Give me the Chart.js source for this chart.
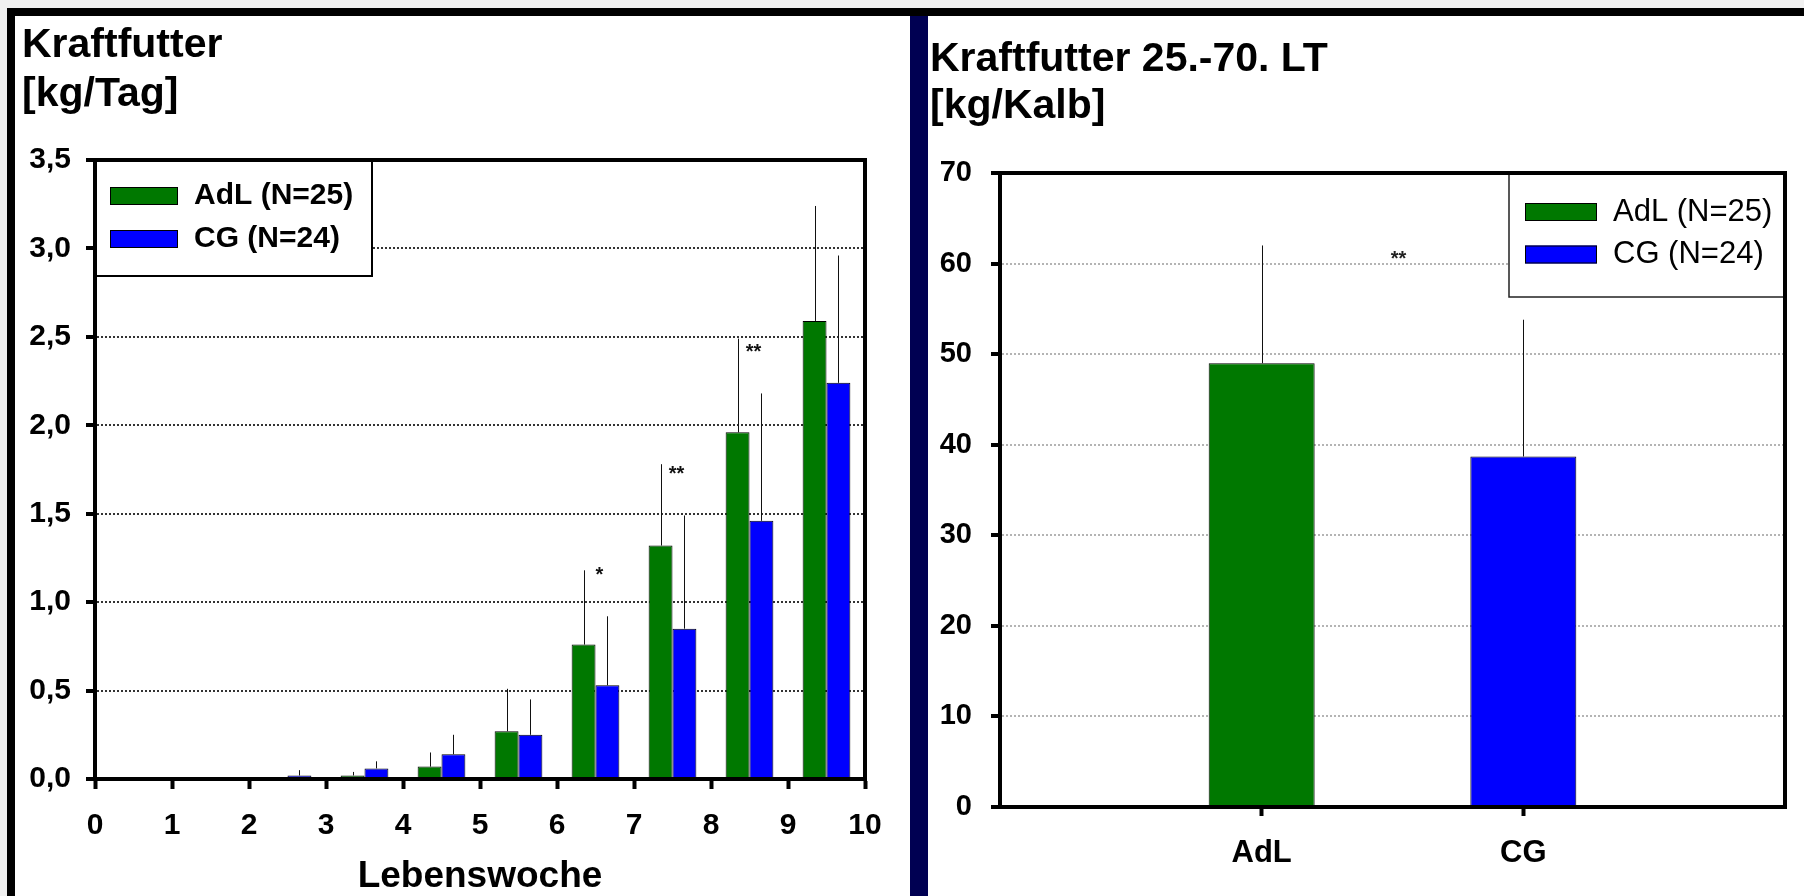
<!DOCTYPE html>
<html>
<head>
<meta charset="utf-8">
<title>Kraftfutter</title>
<script src="https://cdn.jsdelivr.net/npm/chart.js@4.4.1/dist/chart.umd.min.js"></script>
<style>
  html, body { margin: 0; padding: 0; }
  body { width: 1804px; height: 896px; position: relative; overflow: hidden; background: #f0f0f0;
         font-family: 'Liberation Sans', Arial, sans-serif; }
  .rule { position: absolute; background: #000; }
  .panel { position: absolute; top: 16px; height: 880px; background: #fff; }
  .panel canvas { position: absolute; left: 0; top: 0; }
  .title { position: absolute; font-weight: bold; color: #000; white-space: nowrap; }
</style>
</head>
<body>
<div class="rule" style="left:7px; top:8px; width:1797px; height:8px;"></div>
<div class="rule" style="left:7px; top:8px; width:8px; height:888px;"></div>
<div class="rule" style="left:910px; top:16px; width:18px; height:880px; background:#000052;"></div>

<div class="panel" style="left:15px; width:895px;">
  <canvas id="weekly" width="895" height="880" style="width:895px;height:880px;"></canvas>
  <div class="title" style="left:7px; top:3px; font-size:41px; line-height:49px;">Kraftfutter<br>[kg/Tag]</div>
</div>

<div class="panel" style="left:928px; width:876px;">
  <canvas id="total" width="876" height="880" style="width:876px;height:880px;"></canvas>
  <div class="title" style="left:2px; top:18px; font-size:41px; line-height:47px;">Kraftfutter 25.-70. LT<br>[kg/Kalb]</div>
</div>

<script>
// ---- Concentrate intake per week of life (kg/day): mean and SD ----
const weeks      = ['1', '2', '3', '4', '5', '6', '7', '8', '9', '10'];
const weekTicks  = ['0', '1', '2', '3', '4', '5', '6', '7', '8', '9', '10'];
const dailyTicks = ['0,0', '0,5', '1,0', '1,5', '2,0', '2,5', '3,0', '3,5'];
const adlDaily   = [0, 0, 0, 0.02, 0.07, 0.27, 0.76, 1.32, 1.96, 2.59];
const adlDailySd = [0, 0, 0, 0.02, 0.08, 0.24, 0.42, 0.46, 0.53, 0.65];
const cgDaily    = [0, 0, 0.02, 0.06, 0.14, 0.25, 0.53, 0.85, 1.46, 2.24];
const cgDailySd  = [0, 0, 0.03, 0.04, 0.11, 0.20, 0.39, 0.64, 0.72, 0.72];
const weeklySig  = ['', '', '', '', '', '', '*', '**', '**', ''];

// ---- Total concentrate, days 25-70 (kg per calf): mean and SD ----
const groups      = ['AdL', 'CG'];
const groupNames  = ['AdL (N=25)', 'CG (N=24)'];
const groupColors = ['#007800', '#0000ff'];
const totalMean   = [49.0, 38.7];
const totalSd     = [13.0, 15.1];
const totalSig    = '**';
const totalTicks  = ['0', '10', '20', '30', '40', '50', '60', '70'];

Chart.defaults.font.family = "'Liberation Sans', Arial, sans-serif";
Chart.defaults.color = '#000';

const tickVal = c => (c && c.tick) ? c.tick.value : NaN;

// thin SD whiskers from the top of each bar
const errorBars = {
  id: 'errorBars',
  afterDatasetsDraw(chart) {
    const ctx = chart.ctx, y = chart.scales.y;
    ctx.save();
    ctx.strokeStyle = '#111';
    ctx.lineWidth = 1;
    chart.data.datasets.forEach((ds, d) => {
      const meta = chart.getDatasetMeta(d);
      meta.data.forEach((bar, i) => {
        const sd = ds.errors[i];
        if (!sd) return;
        const raw = ds.data[i];
        const v = typeof raw === 'object' ? raw.y : raw;
        const x = Math.round(bar.x) + 0.5;
        ctx.beginPath();
        ctx.moveTo(x, y.getPixelForValue(v));
        ctx.lineTo(x, y.getPixelForValue(v + sd));
        ctx.stroke();
      });
    });
    ctx.restore();
  }
};

// boxed legend sitting in a corner of the plot area
function boxLegend(items, g) {
  return {
    id: 'boxLegend',
    afterDatasetsDraw(chart) {
      const ctx = chart.ctx, a = chart.chartArea;
      const bx = g.right ? a.right - g.w : a.left + g.dx;
      const by = a.top;
      ctx.save();
      ctx.fillStyle = '#fff';
      ctx.fillRect(bx, by, g.w, g.h);
      ctx.strokeStyle = g.stroke;
      ctx.lineWidth = g.lw;
      ctx.strokeRect(bx, by, g.w, g.h);
      items.forEach((it, i) => {
        const cy = by + g.rows[i];
        ctx.fillStyle = it.color;
        ctx.fillRect(bx + g.sx, cy - g.sh / 2, g.sw, g.sh);
        ctx.strokeStyle = '#000';
        ctx.lineWidth = 1;
        ctx.strokeRect(bx + g.sx + 0.5, cy - g.sh / 2 + 0.5, g.sw - 1, g.sh - 1);
        ctx.fillStyle = '#000';
        ctx.font = g.font;
        ctx.textAlign = 'left';
        ctx.textBaseline = 'middle';
        ctx.fillText(it.text, bx + g.tx, cy);
      });
      ctx.restore();
    }
  };
}

// top and right edges of the plot frame
const plotFrame = {
  id: 'plotFrame',
  afterDraw(chart) {
    const ctx = chart.ctx, a = chart.chartArea;
    ctx.save();
    ctx.strokeStyle = '#000';
    ctx.lineWidth = 4;
    ctx.lineCap = 'square';
    ctx.beginPath();
    ctx.moveTo(a.left, a.top);
    ctx.lineTo(a.right, a.top);
    ctx.lineTo(a.right, a.bottom);
    ctx.stroke();
    ctx.restore();
  }
};

// significance stars above the week groups
const weeklyStars = {
  id: 'weeklyStars',
  afterDatasetsDraw(chart) {
    const ctx = chart.ctx, y = chart.scales.y;
    const m0 = chart.getDatasetMeta(0), m1 = chart.getDatasetMeta(1);
    ctx.save();
    ctx.fillStyle = '#111';
    ctx.font = 'bold 20px "Liberation Sans", Arial, sans-serif';
    ctx.textAlign = 'center';
    ctx.textBaseline = 'middle';
    weeklySig.forEach((s, i) => {
      if (!s) return;
      const x = (m0.data[i].x + m1.data[i].x) / 2 + 4;
      const yc = y.getPixelForValue(cgDaily[i] + cgDailySd[i]) - 45;
      ctx.fillText(s, x, yc + 4.5);
    });
    ctx.restore();
  }
};

const totalStars = {
  id: 'totalStars',
  afterDatasetsDraw(chart) {
    const ctx = chart.ctx, y = chart.scales.y;
    const m = chart.getDatasetMeta(0);
    ctx.save();
    ctx.fillStyle = '#222';
    ctx.font = 'bold 20px "Liberation Sans", Arial, sans-serif';
    ctx.textAlign = 'center';
    ctx.textBaseline = 'middle';
    const x = (m.data[0].x + m.data[1].x) / 2 + 6;
    const yc = y.getPixelForValue(totalMean[0] + totalSd[0]) + 10;
    ctx.fillText(totalSig, x, yc + 4.5);
    ctx.restore();
  }
};

// ---------------- weekly chart ----------------
new Chart(document.getElementById('weekly'), {
  type: 'bar',
  data: {
    labels: weeks,
    datasets: [
      { label: groupNames[0], data: adlDaily, errors: adlDailySd,
        backgroundColor: groupColors[0], borderColor: '#000', borderWidth: 1 },
      { label: groupNames[1], data: cgDaily, errors: cgDailySd,
        backgroundColor: groupColors[1], borderColor: '#000', borderWidth: 1 }
    ]
  },
  options: {
    responsive: false,
    animation: false,
    devicePixelRatio: 1,
    layout: { padding: { top: 144, right: 45, left: 0, bottom: 0 } },
    datasets: { bar: { categoryPercentage: 0.62, barPercentage: 1.0 } },
    plugins: { legend: { display: false }, tooltip: { enabled: false } },
    scales: {
      x: { type: 'category', display: false },
      xw: {
        type: 'linear', position: 'bottom', min: 0, max: 10, offset: false,
        afterFit: s => { s.height = 117; },
        grid: { offset: false, drawOnChartArea: false, drawTicks: true, tickLength: 10, tickWidth: 4, tickColor: '#000' },
        border: { display: true, color: '#000', width: 4, z: 1 },
        ticks: { stepSize: 1, autoSkip: false, maxRotation: 0, padding: 19,
                 font: { size: 30, weight: 'bold' }, color: '#000',
                 callback: (v, i) => weekTicks[i] },
        title: { display: true, text: 'Lebenswoche', color: '#000',
                 font: { size: 37, weight: 'bold', lineHeight: 1 }, padding: { top: 0, bottom: 1 } }
      },
      y: {
        min: 0, max: 3.5,
        afterFit: s => { s.width = 80; },
        grid: {
          color: c => (tickVal(c) === 0 || tickVal(c) === 3.5) ? 'rgba(0,0,0,0)' : '#333',
          lineWidth: 2, tickLength: 9, tickWidth: 4, tickColor: '#000'
        },
        border: { display: true, color: '#000', width: 4, dash: [2, 2], z: 1 },
        ticks: { stepSize: 0.5, padding: 15, font: { size: 30, weight: 'bold' }, color: '#000',
                 callback: (v, i) => dailyTicks[i] }
      }
    }
  },
  plugins: [
    errorBars,
    weeklyStars,
    boxLegend(groupNames.map((t, i) => ({ text: t, color: groupColors[i] })),
      { right: false, dx: -1, w: 278, h: 116, sx: 16, sw: 68, sh: 18, rows: [36, 79], tx: 100,
        font: 'bold 30px "Liberation Sans", Arial, sans-serif', stroke: '#000', lw: 2 }),
    plotFrame
  ]
});

// ---------------- total chart ----------------
new Chart(document.getElementById('total'), {
  type: 'bar',
  data: {
    datasets: [
      { label: 'Kraftfutter 25.-70. LT',
        data: groups.map((g, i) => ({ x: i + 1, y: totalMean[i] })),
        errors: totalSd,
        backgroundColor: groupColors, borderColor: '#000', borderWidth: 1 }
    ]
  },
  options: {
    responsive: false,
    animation: false,
    devicePixelRatio: 1,
    layout: { padding: { top: 157, right: 12, left: 0, bottom: 0 } },
    datasets: { bar: { categoryPercentage: 0.405, barPercentage: 1.0 } },
    plugins: { legend: { display: false }, tooltip: { enabled: false } },
    scales: {
      x: {
        type: 'linear', position: 'bottom', min: 0, max: groups.length + 1, offset: false,
        afterFit: s => { s.height = 89; },
        grid: { offset: false, drawOnChartArea: false, drawTicks: true, tickLength: 9, tickWidth: 4,
                tickColor: c => (tickVal(c) >= 1 && tickVal(c) <= groups.length) ? '#000' : 'rgba(0,0,0,0)' },
        border: { display: true, color: '#000', width: 4, z: 1 },
        ticks: { stepSize: 1, autoSkip: false, maxRotation: 0, padding: 19,
                 font: { size: 31, weight: 'bold' }, color: '#000',
                 callback: v => groups[v - 1] || '' }
      },
      y: {
        min: 0, max: 70,
        afterFit: s => { s.width = 72; },
        grid: {
          color: c => (tickVal(c) === 0 || tickVal(c) === 70) ? 'rgba(0,0,0,0)' : '#b4b4b4',
          lineWidth: 2, tickLength: 9, tickWidth: 4, tickColor: '#000'
        },
        border: { display: true, color: '#000', width: 4, dash: [2, 2], z: 1 },
        ticks: { stepSize: 10, padding: 19, font: { size: 29, weight: 'bold' }, color: '#000',
                 callback: (v, i) => totalTicks[i] }
      }
    }
  },
  plugins: [
    errorBars,
    totalStars,
    boxLegend(groupNames.map((t, i) => ({ text: t, color: groupColors[i] })),
      { right: true, w: 276, h: 124, sx: 16, sw: 72, sh: 18, rows: [39, 81.5], tx: 104,
        font: '31px "Liberation Sans", Arial, sans-serif', stroke: '#222', lw: 1.5 }),
    plotFrame
  ]
});
</script>
</body>
</html>
